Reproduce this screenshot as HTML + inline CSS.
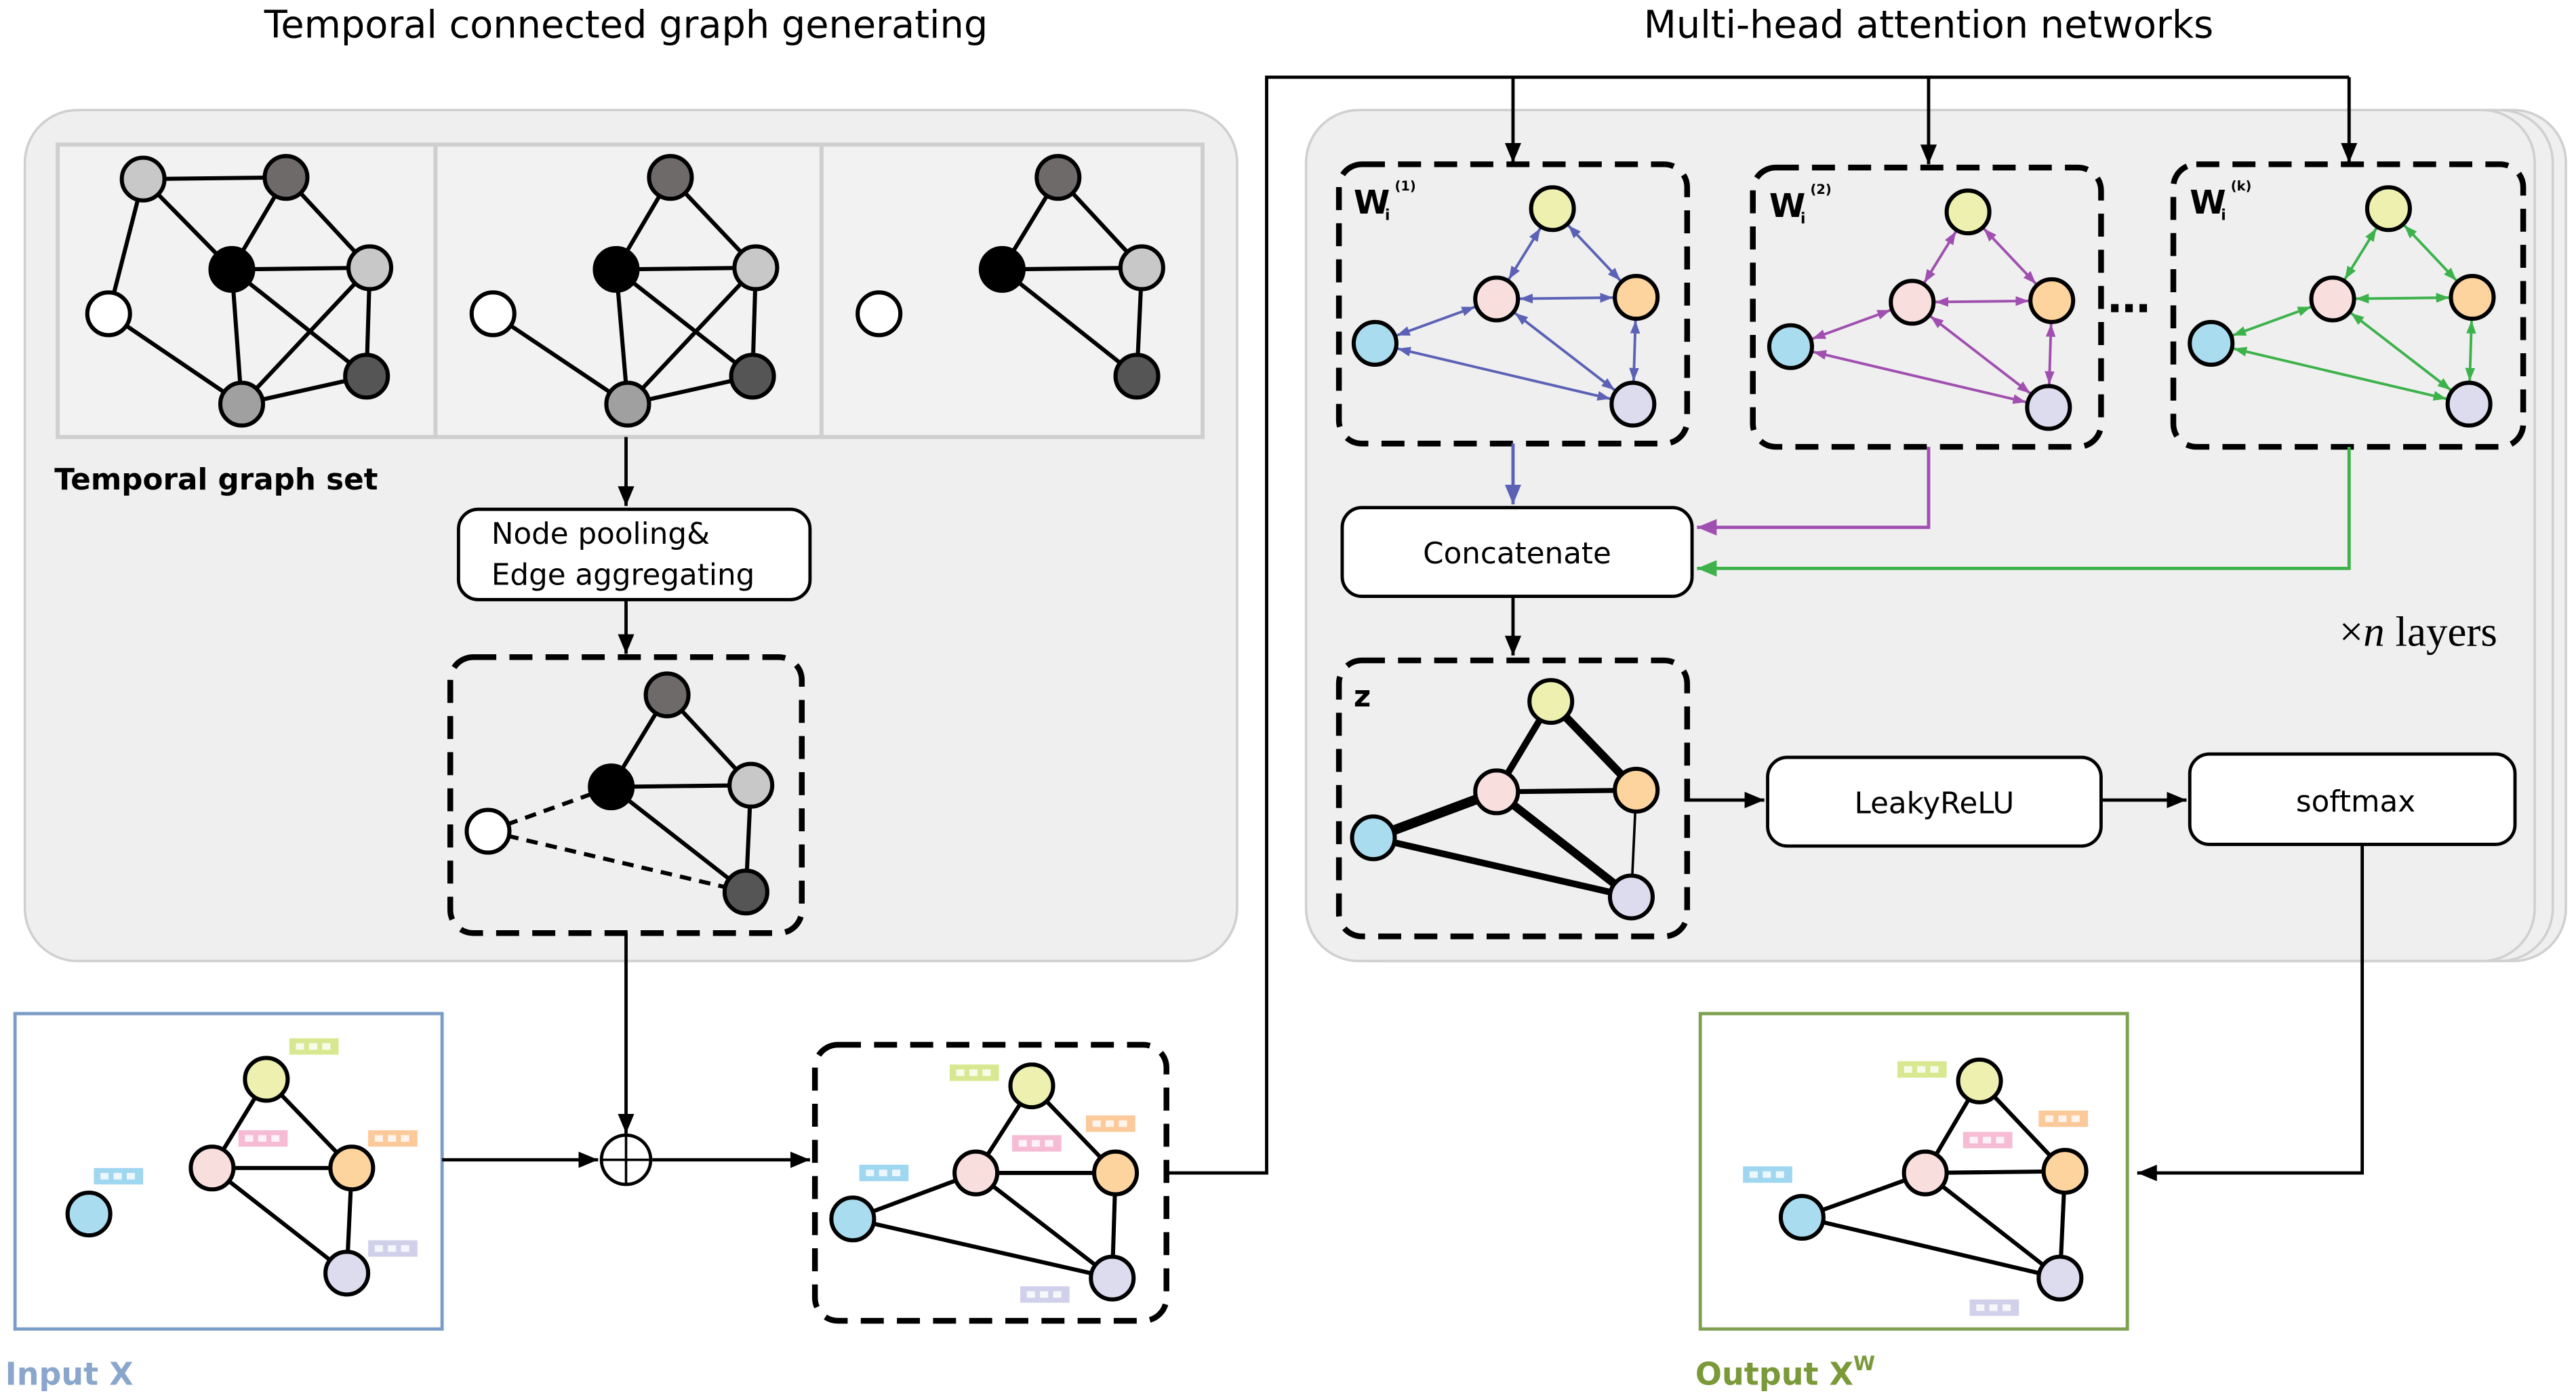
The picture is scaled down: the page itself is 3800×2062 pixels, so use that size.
<!DOCTYPE html>
<html><head><meta charset="utf-8"><style>html,body{margin:0;padding:0;background:#fff}svg{display:block}</style></head><body>
<svg width="3800" height="2062" viewBox="0 0 1568 851" xmlns="http://www.w3.org/2000/svg" font-family="DejaVu Sans, Liberation Sans, sans-serif">
<defs>
<marker id="ak" markerUnits="userSpaceOnUse" markerWidth="14" markerHeight="12" refX="12" refY="5" orient="auto"><path d="M0,0 L12,5 L0,10 z" fill="#000"/></marker>
<marker id="ab" markerUnits="userSpaceOnUse" markerWidth="14" markerHeight="12" refX="12" refY="5" orient="auto"><path d="M0,0 L12,5 L0,10 z" fill="#5b62b5"/></marker>
<marker id="ap" markerUnits="userSpaceOnUse" markerWidth="14" markerHeight="12" refX="12" refY="5" orient="auto"><path d="M0,0 L12,5 L0,10 z" fill="#a04fb0"/></marker>
<marker id="ag" markerUnits="userSpaceOnUse" markerWidth="14" markerHeight="12" refX="12" refY="5" orient="auto"><path d="M0,0 L12,5 L0,10 z" fill="#3db24b"/></marker>
<marker id="nb" markerUnits="userSpaceOnUse" markerWidth="30" markerHeight="8" refX="22" refY="3" orient="auto-start-reverse"><path d="M0,0 L8,3 L0,6 z" fill="#5b62b5"/></marker>
<marker id="np" markerUnits="userSpaceOnUse" markerWidth="30" markerHeight="8" refX="22" refY="3" orient="auto-start-reverse"><path d="M0,0 L8,3 L0,6 z" fill="#a04fb0"/></marker>
<marker id="ng" markerUnits="userSpaceOnUse" markerWidth="30" markerHeight="8" refX="22" refY="3" orient="auto-start-reverse"><path d="M0,0 L8,3 L0,6 z" fill="#3db24b"/></marker>
<g id="fb"><rect x="0" y="0" width="30" height="10"/><rect x="4" y="3" width="5" height="4" fill="#fff" opacity=".8"/><rect x="12" y="3" width="5" height="4" fill="#fff" opacity=".8"/><rect x="20" y="3" width="5" height="4" fill="#fff" opacity=".8"/></g>
</defs>
<rect width="1568" height="851" fill="#fff"/>
<text x="381" y="23" font-size="23" text-anchor="middle">Temporal connected graph generating</text>
<text x="1174" y="23" font-size="23" text-anchor="middle">Multi-head attention networks</text>

<!-- left panel -->
<rect x="15" y="67" width="738" height="518" rx="32" fill="#efefef" stroke="#d0d0d0" stroke-width="1.5"/>
<rect x="35" y="88" width="697" height="178" fill="#f2f2f2" stroke="#cfcfcf" stroke-width="2.5"/>
<line x1="265" y1="88" x2="265" y2="266" stroke="#cfcfcf" stroke-width="2.5"/>
<line x1="500" y1="88" x2="500" y2="266" stroke="#cfcfcf" stroke-width="2.5"/>
<g stroke="#000" stroke-width="2.5">
<path d="M87,109L174,108 M87,109L141,164 M87,109L66,191 M174,108L141,164 M174,108L225,163 M141,164L225,163 M141,164L223,229 M141,164L147,246 M66,191L147,246 M147,246L223,229 M225,163L223,229 M225,163L147,246"/>
<path d="M408,108L375,164 M408,108L460,163 M375,164L460,163 M375,164L458,229 M375,164L382,246 M300,191L382,246 M382,246L460,163 M382,246L458,229 M460,163L458,229"/>
<path d="M644,108L610,164 M644,108L695,163 M610,164L695,163 M610,164L692,229 M695,163L692,229"/>
</g>
<g stroke="#000" stroke-width="2.5">
<circle cx="87" cy="109" r="13" fill="#c8c8c8"/><circle cx="174" cy="108" r="13" fill="#6e6a6a"/><circle cx="141" cy="164" r="13" fill="#000"/><circle cx="225" cy="163" r="13" fill="#c8c8c8"/><circle cx="66" cy="191" r="13" fill="#fff"/><circle cx="147" cy="246" r="13" fill="#a0a0a0"/><circle cx="223" cy="229" r="13" fill="#555"/>
<circle cx="408" cy="108" r="13" fill="#6e6a6a"/><circle cx="375" cy="164" r="13" fill="#000"/><circle cx="460" cy="163" r="13" fill="#c8c8c8"/><circle cx="300" cy="191" r="13" fill="#fff"/><circle cx="382" cy="246" r="13" fill="#a0a0a0"/><circle cx="458" cy="229" r="13" fill="#555"/>
<circle cx="644" cy="108" r="13" fill="#6e6a6a"/><circle cx="610" cy="164" r="13" fill="#000"/><circle cx="695" cy="163" r="13" fill="#c8c8c8"/><circle cx="535" cy="191" r="13" fill="#fff"/><circle cx="692" cy="229" r="13" fill="#555"/>
</g>
<text x="33" y="298" font-size="18" font-weight="bold">Temporal graph set</text>
<line x1="381" y1="266" x2="381" y2="308" stroke="#000" stroke-width="2" marker-end="url(#ak)"/>
<rect x="279" y="310" width="214" height="55" rx="12" fill="#fff" stroke="#000" stroke-width="2"/>
<text x="299" y="331" font-size="18">Node pooling&amp;</text>
<text x="299" y="356" font-size="18">Edge aggregating</text>
<line x1="381" y1="365" x2="381" y2="398" stroke="#000" stroke-width="2" marker-end="url(#ak)"/>
<rect x="274" y="400" width="214" height="168" rx="14" fill="none" stroke="#000" stroke-width="3.5" stroke-dasharray="14,8"/>
<g stroke="#000" stroke-width="2.5"><path d="M406,423L372,479 M406,423L457,478 M372,479L457,478 M372,479L454,543 M457,478L454,543"/><path d="M297,506L372,479 M297,506L454,543" stroke-dasharray="7,5"/>
<circle cx="406" cy="423" r="13" fill="#6e6a6a"/><circle cx="372" cy="479" r="13" fill="#000"/><circle cx="457" cy="478" r="13" fill="#c8c8c8"/><circle cx="297" cy="506" r="13" fill="#fff"/><circle cx="454" cy="543" r="13" fill="#555"/></g>
<line x1="381" y1="568" x2="381" y2="690" stroke="#000" stroke-width="2" marker-end="url(#ak)"/>
<circle cx="381" cy="706" r="15" fill="#fff" stroke="#000" stroke-width="2"/><path d="M366,706H396M381,691V721" stroke="#000" stroke-width="1.5"/>

<!-- input X -->
<rect x="9" y="617" width="260" height="192" fill="#fff" stroke="#7a9cc6" stroke-width="2"/>
<text x="3" y="843" font-size="19" font-weight="bold" fill="#8aa6cc">Input X</text>
<g stroke="#000" stroke-width="2.5"><path d="M162,657L129,711 M162,657L214,711 M129,711L214,711 M129,711L211,775 M214,711L211,775"/>
<circle cx="54" cy="739" r="13" fill="#aadcf0"/><circle cx="129" cy="711" r="13" fill="#f9dede"/><circle cx="162" cy="657" r="13" fill="#eef0b0"/><circle cx="214" cy="711" r="13" fill="#fdd49e"/><circle cx="211" cy="775" r="13" fill="#dcdcee"/></g>
<use href="#fb" x="57" y="711" fill="#9fd6f0"/><use href="#fb" x="176" y="632" fill="#d8e890"/><use href="#fb" x="145" y="688" fill="#f6bcd4"/><use href="#fb" x="224" y="688" fill="#fcc99a"/><use href="#fb" x="224" y="755" fill="#d0d0ea"/>
<line x1="269" y1="706" x2="364" y2="706" stroke="#000" stroke-width="2" marker-end="url(#ak)"/>
<line x1="397" y1="706" x2="493" y2="706" stroke="#000" stroke-width="2" marker-end="url(#ak)"/>

<!-- middle dashed graph -->
<rect x="496" y="636" width="214" height="168" rx="14" fill="none" stroke="#000" stroke-width="3.5" stroke-dasharray="14,8"/>
<g stroke="#000" stroke-width="2.5"><path d="M519,742L594,714 M519,742L677,778 M594,714L628,661 M628,661L679,714 M594,714L679,714 M594,714L677,778 M679,714L677,778"/>
<circle cx="519" cy="742" r="13" fill="#aadcf0"/><circle cx="594" cy="714" r="13" fill="#f9dede"/><circle cx="628" cy="661" r="13" fill="#eef0b0"/><circle cx="679" cy="714" r="13" fill="#fdd49e"/><circle cx="677" cy="778" r="13" fill="#dcdcee"/></g>
<use href="#fb" x="578" y="648" fill="#d8e890"/><use href="#fb" x="616" y="691" fill="#f6bcd4"/><use href="#fb" x="661" y="679" fill="#fcc99a"/><use href="#fb" x="523" y="709" fill="#9fd6f0"/><use href="#fb" x="621" y="783" fill="#d0d0ea"/>

<!-- right panel -->
<rect x="811" y="67" width="751" height="518" rx="32" fill="#efefef" stroke="#d0d0d0" stroke-width="1.5"/>
<rect x="803" y="67" width="751" height="518" rx="32" fill="#efefef" stroke="#d0d0d0" stroke-width="1.5"/>
<rect x="795" y="67" width="748" height="518" rx="32" fill="#efefef" stroke="#d0d0d0" stroke-width="1.5"/>

<path d="M710,714H771V47H1430" fill="none" stroke="#000" stroke-width="2"/>
<line x1="921" y1="47" x2="921" y2="99" stroke="#000" stroke-width="2" marker-end="url(#ak)"/>
<line x1="1174" y1="47" x2="1174" y2="100" stroke="#000" stroke-width="2" marker-end="url(#ak)"/>
<line x1="1430" y1="47" x2="1430" y2="99" stroke="#000" stroke-width="2" marker-end="url(#ak)"/>

<rect x="815" y="100" width="212" height="170" rx="14" fill="none" stroke="#000" stroke-width="3.5" stroke-dasharray="14,8"/>
<rect x="1067" y="102" width="212" height="170" rx="14" fill="none" stroke="#000" stroke-width="3.5" stroke-dasharray="14,8"/>
<rect x="1323" y="100" width="213" height="172" rx="14" fill="none" stroke="#000" stroke-width="3.5" stroke-dasharray="14,8"/>
<g font-weight="bold"><text x="824" y="130" font-size="20">W</text><text x="843" y="134" font-size="9">i</text><text x="849" y="116" font-size="8">(1)</text>
<text x="1077" y="132" font-size="20">W</text><text x="1096" y="136" font-size="9">i</text><text x="1102" y="118" font-size="8">(2)</text>
<text x="1333" y="130" font-size="20">W</text><text x="1352" y="134" font-size="9">i</text><text x="1358" y="116" font-size="8">(k)</text></g>
<text x="1283" y="190" font-size="26" font-weight="bold">…</text>

<g stroke="#5b62b5" stroke-width="1.6" marker-start="url(#nb)" marker-end="url(#nb)">
<line x1="945" y1="127" x2="911" y2="182"/><line x1="945" y1="127" x2="996" y2="181"/><line x1="911" y1="182" x2="996" y2="181"/><line x1="911" y1="182" x2="837" y2="209"/><line x1="911" y1="182" x2="994" y2="246"/><line x1="996" y1="181" x2="994" y2="246"/><line x1="837" y1="209" x2="994" y2="246"/></g>
<g stroke="#a04fb0" stroke-width="1.6" marker-start="url(#np)" marker-end="url(#np)">
<line x1="1198" y1="129" x2="1164" y2="184"/><line x1="1198" y1="129" x2="1249" y2="183"/><line x1="1164" y1="184" x2="1249" y2="183"/><line x1="1164" y1="184" x2="1090" y2="211"/><line x1="1164" y1="184" x2="1247" y2="248"/><line x1="1249" y1="183" x2="1247" y2="248"/><line x1="1090" y1="211" x2="1247" y2="248"/></g>
<g stroke="#3db24b" stroke-width="1.6" marker-start="url(#ng)" marker-end="url(#ng)">
<line x1="1454" y1="127" x2="1420" y2="182"/><line x1="1454" y1="127" x2="1505" y2="181"/><line x1="1420" y1="182" x2="1505" y2="181"/><line x1="1420" y1="182" x2="1346" y2="209"/><line x1="1420" y1="182" x2="1503" y2="246"/><line x1="1505" y1="181" x2="1503" y2="246"/><line x1="1346" y1="209" x2="1503" y2="246"/></g>
<g stroke="#000" stroke-width="2.5">
<circle cx="945" cy="127" r="13" fill="#eef0b0"/><circle cx="911" cy="182" r="13" fill="#f9dede"/><circle cx="996" cy="181" r="13" fill="#fdd49e"/><circle cx="837" cy="209" r="13" fill="#aadcf0"/><circle cx="994" cy="246" r="13" fill="#dcdcee"/>
<circle cx="1198" cy="129" r="13" fill="#eef0b0"/><circle cx="1164" cy="184" r="13" fill="#f9dede"/><circle cx="1249" cy="183" r="13" fill="#fdd49e"/><circle cx="1090" cy="211" r="13" fill="#aadcf0"/><circle cx="1247" cy="248" r="13" fill="#dcdcee"/>
<circle cx="1454" cy="127" r="13" fill="#eef0b0"/><circle cx="1420" cy="182" r="13" fill="#f9dede"/><circle cx="1505" cy="181" r="13" fill="#fdd49e"/><circle cx="1346" cy="209" r="13" fill="#aadcf0"/><circle cx="1503" cy="246" r="13" fill="#dcdcee"/></g>

<line x1="921" y1="270" x2="921" y2="307" stroke="#5b62b5" stroke-width="2" marker-end="url(#ab)"/>
<path d="M1174,272V321H1033" fill="none" stroke="#a04fb0" stroke-width="2" marker-end="url(#ap)"/>
<path d="M1430,272V346H1033" fill="none" stroke="#3db24b" stroke-width="2" marker-end="url(#ag)"/>
<rect x="817" y="309" width="213" height="54" rx="12" fill="#fff" stroke="#000" stroke-width="2"/>
<text x="923.5" y="343" font-size="18" text-anchor="middle">Concatenate</text>
<line x1="921" y1="363" x2="921" y2="399" stroke="#000" stroke-width="2" marker-end="url(#ak)"/>
<text x="1424" y="393" font-size="26" font-family="Liberation Serif, serif">×<tspan font-style="italic">n</tspan> layers</text>

<rect x="815" y="402" width="212" height="168" rx="14" fill="none" stroke="#000" stroke-width="3.5" stroke-dasharray="14,8"/>
<text x="824" y="430" font-size="18" font-weight="bold">z</text>
<g stroke="#000"><line x1="944" y1="427" x2="911" y2="482" stroke-width="4"/><line x1="944" y1="427" x2="996" y2="481" stroke-width="5"/><line x1="911" y1="482" x2="996" y2="481" stroke-width="3"/><line x1="911" y1="482" x2="836" y2="510" stroke-width="6"/><line x1="911" y1="482" x2="993" y2="546" stroke-width="5"/><line x1="836" y1="510" x2="993" y2="546" stroke-width="4"/><line x1="996" y1="481" x2="993" y2="546" stroke-width="1.5"/></g>
<g stroke="#000" stroke-width="2.5"><circle cx="944" cy="427" r="13" fill="#eef0b0"/><circle cx="911" cy="482" r="13" fill="#f9dede"/><circle cx="996" cy="481" r="13" fill="#fdd49e"/><circle cx="836" cy="510" r="13" fill="#aadcf0"/><circle cx="993" cy="546" r="13" fill="#dcdcee"/></g>
<line x1="1027" y1="487" x2="1074" y2="487" stroke="#000" stroke-width="2" marker-end="url(#ak)"/>
<rect x="1076" y="461" width="203" height="54" rx="12" fill="#fff" stroke="#000" stroke-width="2"/>
<text x="1177.5" y="495" font-size="18" text-anchor="middle">LeakyReLU</text>
<line x1="1279" y1="487" x2="1331" y2="487" stroke="#000" stroke-width="2" marker-end="url(#ak)"/>
<rect x="1333" y="459" width="198" height="55" rx="12" fill="#fff" stroke="#000" stroke-width="2"/>
<text x="1434" y="494" font-size="18" text-anchor="middle">softmax</text>
<path d="M1438,514V714H1301" fill="none" stroke="#000" stroke-width="2" marker-end="url(#ak)"/>

<!-- output -->
<rect x="1035" y="617" width="260" height="192" fill="#fff" stroke="#7ea050" stroke-width="2"/>
<text x="1032" y="843" font-size="19" font-weight="bold" fill="#7a9a3a">Output X<tspan font-size="12" dy="-9">W</tspan></text>
<g stroke="#000" stroke-width="2.5"><path d="M1097,741L1172,714 M1097,741L1254,778 M1172,714L1205,658 M1205,658L1257,713 M1172,714L1257,713 M1172,714L1254,778 M1257,713L1254,778"/>
<circle cx="1097" cy="741" r="13" fill="#aadcf0"/><circle cx="1172" cy="714" r="13" fill="#f9dede"/><circle cx="1205" cy="658" r="13" fill="#eef0b0"/><circle cx="1257" cy="713" r="13" fill="#fdd49e"/><circle cx="1254" cy="778" r="13" fill="#dcdcee"/></g>
<use href="#fb" x="1155" y="646" fill="#d8e890"/><use href="#fb" x="1195" y="689" fill="#f6bcd4"/><use href="#fb" x="1241" y="676" fill="#fcc99a"/><use href="#fb" x="1061" y="710" fill="#9fd6f0"/><use href="#fb" x="1199" y="791" fill="#d0d0ea"/>
</svg>
</body></html>
